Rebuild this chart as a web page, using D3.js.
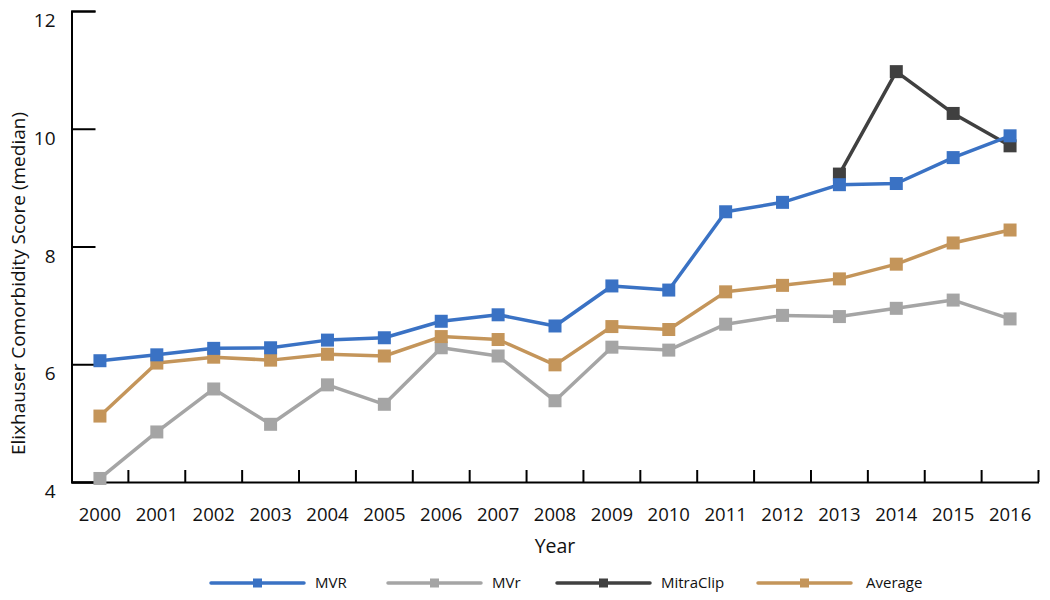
<!DOCTYPE html>
<html>
<head>
<meta charset="utf-8">
<script src="https://cdn.jsdelivr.net/npm/d3@7"></script>
<style>
  html, body { margin: 0; padding: 0; background: #fff; }
  svg text { font-family: "Open Sans", sans-serif; fill: #111; }
</style>
</head>
<body>
<svg id="chart" width="1050" height="600"></svg>
<script>
const years = ["2000","2001","2002","2003","2004","2005","2006","2007","2008","2009","2010","2011","2012","2013","2014","2015","2016"];
const mvr = [6.06,6.16,6.27,6.28,6.41,6.45,6.73,6.84,6.65,7.33,7.26,8.59,8.75,9.05,9.07,9.51,9.88];
const mvrRepair = [4.06,4.85,5.58,4.98,5.65,5.32,6.28,6.14,5.38,6.29,6.24,6.68,6.83,6.81,6.95,7.09,6.77];
const mitraClip = [null,null,null,null,null,null,null,null,null,null,null,null,null,9.23,10.97,10.26,9.71];
const average = [5.12,6.02,6.12,6.07,6.17,6.14,6.47,6.42,5.99,6.64,6.59,7.23,7.34,7.45,7.70,8.06,8.28];
const yTicks = [4,6,8,10,12];
const seriesNames = ["MVR","MVr","MitraClip","Average"];
const seriesColors = ["#3A72C4","#A5A5A5","#404040","#C4955A"];
const seriesData = [mvr, mvrRepair, mitraClip, average];
const drawOrder = [2,1,3,0];

const svg = d3.select("#chart");
const mLeft = 71.5, mRight = 1038.5, mTop = 11, mBottom = 482;

const x = d3.scaleBand().domain(years).range([mLeft, mRight]).padding(0);
const y = d3.scaleLinear().domain([4,12]).range([mBottom, mTop]);
const cx = d => x(d) + x.bandwidth()/2;

// Y axis
const yAxis = svg.append("g")
  .attr("transform", `translate(${mLeft},0)`)
  .call(d3.axisLeft(y).tickValues(yTicks).tickSize(-24).tickPadding(16).tickFormat(d3.format("d")));
yAxis.select(".domain").attr("stroke", "#000").attr("stroke-width", 2);
yAxis.selectAll(".tick line").attr("stroke", "#000").attr("stroke-width", 2);
yAxis.selectAll(".tick text").attr("font-size", 19).attr("dy", "0.82em")
  .style("font-family", "'Open Sans', sans-serif").attr("fill", "#111");

// X axis
const xAxis = svg.append("g")
  .attr("transform", `translate(0,${mBottom})`)
  .call(d3.axisBottom(x).tickSize(0).tickPadding(26));
xAxis.select(".domain").attr("stroke", "#000").attr("stroke-width", 2);
xAxis.selectAll(".tick text").attr("font-size", 18.5)
  .style("font-family", "'Open Sans', sans-serif").attr("fill", "#111");
const boundaries = years.map(d => x(d)).concat([x(years[years.length-1]) + x.bandwidth()]).slice(1);
xAxis.selectAll(".btick").data(boundaries).enter().append("line")
  .attr("x1", d => d).attr("x2", d => d).attr("y1", 0).attr("y2", -12)
  .attr("stroke", "#000").attr("stroke-width", 2);

// Axis titles
svg.append("text").attr("x", (mLeft+mRight)/2).attr("y", 553).attr("text-anchor", "middle")
  .attr("font-size", 19.5).text("Year");
svg.append("text").attr("transform", `translate(25,${(mTop+mBottom)/2 + 37}) rotate(-90)`)
  .attr("text-anchor", "middle").attr("font-size", 19).text("Elixhauser Comorbidity Score (median)");

// Series
const line = d3.line().defined(d => d.v != null).x(d => cx(d.year)).y(d => y(d.v));
const ms = 13;
drawOrder.forEach(i => {
  const pts = years.map((yr, j) => ({year: yr, v: seriesData[i][j]}));
  const g = svg.append("g");
  g.append("path").datum(pts).attr("d", line).attr("fill", "none")
    .attr("stroke", seriesColors[i]).attr("stroke-width", 3.5).attr("stroke-linejoin", "round");
  g.selectAll("rect").data(pts.filter(d => d.v != null)).enter().append("rect")
    .attr("x", d => cx(d.year) - ms/2).attr("y", d => y(d.v) - ms/2)
    .attr("width", ms).attr("height", ms).attr("fill", seriesColors[i]);
});

// Legend
const legendX = [211, 388, 557, 758];
const ly = 583;
seriesNames.forEach((name, i) => {
  const g = svg.append("g").attr("transform", `translate(${legendX[i]},${ly})`);
  g.append("line").attr("x1", 0).attr("x2", 93).attr("y1", 0).attr("y2", 0)
    .attr("stroke", seriesColors[i]).attr("stroke-width", 3.5).attr("stroke-linecap", "round");
  g.append("rect").attr("x", 46.5-4.5).attr("y", -4.5).attr("width", 9).attr("height", 9).attr("fill", seriesColors[i]);
  g.append("text").attr("x", i === 3 ? 108 : 104).attr("y", 0).attr("dy", "0.35em")
    .attr("font-size", 15).text(name);
});
</script>
</body>
</html>
